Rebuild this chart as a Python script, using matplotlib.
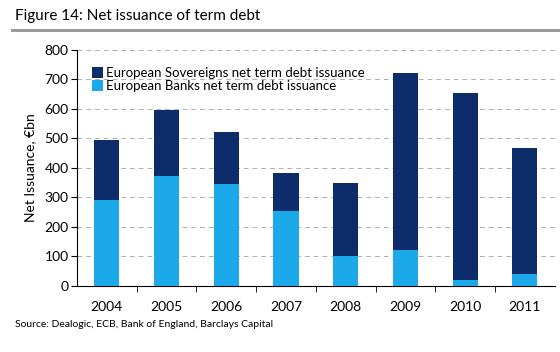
import numpy as np
import matplotlib
matplotlib.use("Agg")
import matplotlib.pyplot as plt

plt.rcParams['font.family'] = ['Lato', 'DejaVu Sans']

years = ["2004", "2005", "2006", "2007", "2008", "2009", "2010", "2011"]
banks = [291, 373, 346, 254, 102, 121, 19, 40]
totals = [495, 597, 520, 384, 350, 721, 653, 467]
sovereigns = [t - b for t, b in zip(totals, banks)]

navy = "#0c2d69"
light = "#1ca9ea"

fig = plt.figure(figsize=(5.6, 3.52), dpi=100)
ax = fig.add_axes([0.1375, 0.1875, 0.853, 0.671])

x = np.arange(len(years))
ax.bar(x, banks, width=0.42, color=light, label="European Banks net term debt issuance", zorder=3)
ax.bar(x, sovereigns, width=0.42, bottom=banks, color=navy,
       label="European Sovereigns net term debt issuance", zorder=3)

ax.set_xlim(-0.5, len(years) - 0.5)
ax.set_ylim(0, 800)
ax.set_yticks(range(0, 801, 100))
ax.set_xticks(x)
ax.set_xticklabels(years)
ax.set_xticks(np.arange(0.5, len(years) - 1, 1), minor=True)
ax.tick_params(axis='x', which='major', length=0, pad=11, labelsize=10)
ax.tick_params(axis='x', which='minor', length=4, direction='out', color='black')
ax.tick_params(axis='y', length=4, direction='out', labelsize=10, pad=2)
ax.yaxis.grid(True, color='#b0b0b0', linestyle=(0, (5, 4)), linewidth=0.7, zorder=0)
for s in ['top', 'right']:
    ax.spines[s].set_visible(False)
ax.spines['left'].set_color('black')
ax.spines['bottom'].set_color('black')
ax.set_ylabel("Net Issuance, €bn", fontsize=10, labelpad=6)

handles, labels = ax.get_legend_handles_labels()
ax.legend(handles[::-1], labels[::-1], loc='upper left', bbox_to_anchor=(0.02, 0.95),
          frameon=False, fontsize=9.5, handlelength=0.85, handleheight=0.85,
          handletextpad=0.25, labelspacing=0.1, borderaxespad=0)

fig.text(0.027, 0.955, "Figure 14: Net issuance of term debt", fontsize=11, va='center')
fig.add_artist(plt.Line2D([0.022, 1.0], [0.915, 0.915], color='#9a9a9a', linewidth=2.2))
fig.text(0.027, 0.078, "Source: Dealogic, ECB, Bank of England, Barclays Capital", fontsize=7.5, va='center')

fig.savefig("out.png", dpi=100)
